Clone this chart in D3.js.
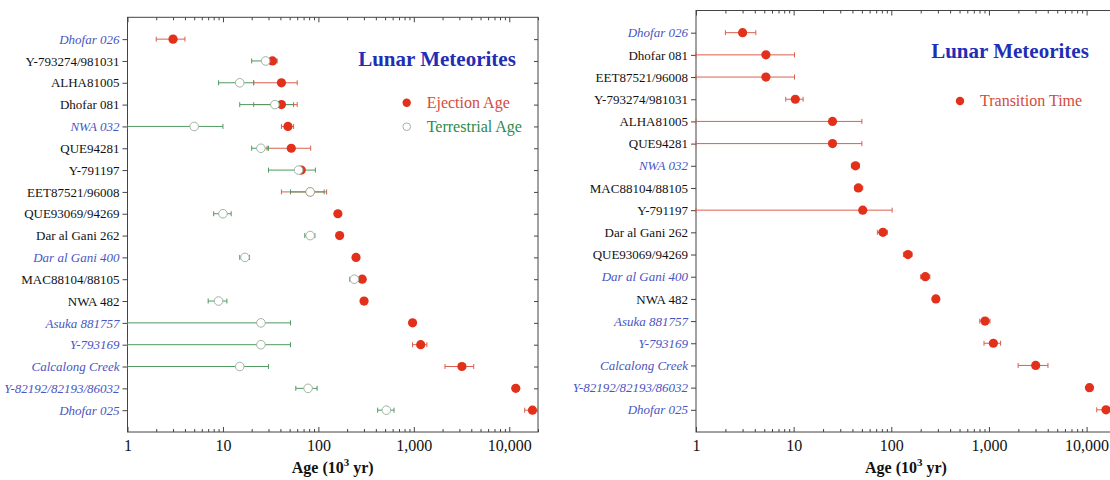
<!DOCTYPE html>
<html>
<head>
<meta charset="utf-8">
<script src="https://cdn.jsdelivr.net/npm/d3@7"></script>
<style>
  body { margin: 0; background: #fff; }
  svg { display: block; font-family: "Liberation Serif", "Times New Roman", serif; }
</style>
</head>
<body>
<svg id="chart" width="1110" height="480"></svg>
<script>
// Row names, top to bottom
const leftNames = ["Dhofar 026", "Y-793274/981031", "ALHA81005", "Dhofar 081", "NWA 032", "QUE94281",
  "Y-791197", "EET87521/96008", "QUE93069/94269", "Dar al Gani 262", "Dar al Gani 400", "MAC88104/88105",
  "NWA 482", "Asuka 881757", "Y-793169", "Calcalong Creek", "Y-82192/82193/86032", "Dhofar 025"];
const rightNames = ["Dhofar 026", "Dhofar 081", "EET87521/96008", "Y-793274/981031", "ALHA81005", "QUE94281",
  "NWA 032", "MAC88104/88105", "Y-791197", "Dar al Gani 262", "QUE93069/94269", "Dar al Gani 400",
  "NWA 482", "Asuka 881757", "Y-793169", "Calcalong Creek", "Y-82192/82193/86032", "Dhofar 025"];
// names shown in blue italic
const italicNames = ["Dhofar 026", "NWA 032", "Dar al Gani 400", "Asuka 881757", "Y-793169",
  "Calcalong Creek", "Y-82192/82193/86032", "Dhofar 025"];

// Left panel: ejection age (10^3 yr) with error range
const ejection = [3, 33, 41, 41, 48, 52, 66, 82, 160, 167, 248, 288, 301, 970, 1180, 3190, 11700, 17500];
const ejectionLo = [2, 28, 21, 21, 41, 29, 60, 41, 150, 158, 235, 272, 285, 900, 970, 2120, 11000, 14500];
const ejectionHi = [4, 37, 60, 60, 55, 83, 72, 122, 170, 176, 262, 304, 318, 1040, 1370, 4240, 12400, 20000];

// Left panel: terrestrial age (10^3 yr), none for Dhofar 026
const terrestrial = [null, 28, 15, 35, 5, 25, 62, 82, 10, 82, 17, 238, 9, 25, 25, 15, 78, 515];
const terrestrialLo = [null, 20, 9, 15, 1, 20, 30, 51, 8, 72, 15, 213, 7, 1, 1, 1, 58, 418];
const terrestrialHi = [null, 36, 21, 55, 10, 30, 93, 115, 12.2, 92, 19, 262, 11, 51, 51, 30, 97, 620];

// Right panel: transition time (10^3 yr)
const transition = [3, 5.2, 5.2, 10.4, 25, 25, 43, 46, 51, 82, 148, 223, 286, 912, 1110, 3010, 10700, 15800];
const transitionLo = [2, 1, 1, 8.3, 1, 1, 39, 42, 1, 72, 133, 200, 272, 805, 890, 1990, 10200, 12700];
const transitionHi = [4.1, 10.2, 10.2, 12.5, 50, 50, 47, 51, 102, 91, 163, 248, 300, 1025, 1315, 4020, 11300, 20000];

const xDomain = [1, 20000];
const majorTicks = [1, 10, 100, 1000, 10000];
const minorTicks = [];
[1, 10, 100, 1000, 10000].forEach(d => {
    for (let k = 2; k <= 9; k++) if (d * k <= xDomain[1]) minorTicks.push(d * k);
});

const SERIF = '"Liberation Serif", "Times New Roman", serif';
const RED = "#e2301a";
const RED_BAR = "#d9604e";
const GREEN_BAR = "#4f9a60";
const CIRCLE = "#9fb5a3";
const BLUE_LABEL = "#4b55bf";
const TITLE_BLUE = "#1f2fb5";

const svg = d3.select("#chart");

function drawPanel(opt) {
    const x = d3.scaleLog().domain(xDomain).range([opt.left, opt.right]);
    const y = d3.scaleLinear().domain([-1, 18]).range([opt.top, opt.bottom]);
    const g = svg.append("g");

    // frame
    g.append("rect")
        .attr("x", opt.left).attr("y", opt.top)
        .attr("width", opt.right - opt.left).attr("height", opt.bottom - opt.top)
        .attr("fill", "none").attr("stroke", "#444").attr("stroke-width", 1);

    // bottom axis, ticks pointing inward
    const bottom = g.append("g").attr("transform", `translate(0,${opt.bottom})`)
        .call(d3.axisBottom(x).tickValues(majorTicks).tickSize(-5).tickPadding(8).tickFormat(d3.format(",")));
    bottom.selectAll("text").style("font-size", "16px").attr("fill", "#111");
    g.append("g").attr("transform", `translate(0,${opt.bottom})`)
        .call(d3.axisBottom(x).tickValues(minorTicks).tickSize(-3).tickFormat(""));

    // top axis
    g.append("g").attr("transform", `translate(0,${opt.top})`)
        .call(d3.axisTop(x).tickValues(majorTicks).tickSize(-5).tickFormat(""));
    g.append("g").attr("transform", `translate(0,${opt.top})`)
        .call(d3.axisTop(x).tickValues(minorTicks).tickSize(-3).tickFormat(""));

    // left axis with meteorite names
    const leftAx = g.append("g").attr("transform", `translate(${opt.left},0)`)
        .call(d3.axisLeft(y).tickValues(d3.range(18)).tickSize(5).tickPadding(3).tickFormat(i => opt.names[i]));
    leftAx.selectAll("text")
        .style("font-size", "13px")
        .attr("fill", i => italicNames.includes(opt.names[i]) ? BLUE_LABEL : "#111")
        .style("font-style", i => italicNames.includes(opt.names[i]) ? "italic" : "normal");

    // right axis, ticks only
    g.append("g").attr("transform", `translate(${opt.right},0)`)
        .call(d3.axisRight(y).tickValues(d3.range(18)).tickSize(-4).tickFormat(""));

    g.selectAll(".domain").remove();
    g.selectAll(".tick line").attr("stroke", "#444");
    g.selectAll("g").attr("font-family", SERIF);

    // x label
    const lab = g.append("text")
        .attr("x", (opt.left + opt.right) / 2).attr("y", 473)
        .attr("text-anchor", "middle")
        .style("font-size", "16px").style("font-weight", "bold").attr("fill", "#111");
    lab.append("tspan").text("Age (10");
    lab.append("tspan").attr("dy", -7).style("font-size", "11px").text("3");
    lab.append("tspan").attr("dy", 7).text(" yr)");

    // title
    g.append("text")
        .attr("x", opt.titleX).attr("y", opt.titleY)
        .attr("text-anchor", "middle")
        .style("font-size", "21px").style("font-weight", "bold")
        .attr("fill", TITLE_BLUE)
        .text("Lunar Meteorites");

    return {g, x, y};
}

function errorBars(g, x, y, lo, hi, color) {
    const rows = d3.range(lo.length).filter(i => lo[i] != null);
    const bars = g.append("g").attr("stroke", color).attr("stroke-width", 1);
    bars.selectAll("line.bar").data(rows).enter().append("line")
        .attr("x1", i => x(lo[i])).attr("x2", i => x(hi[i]))
        .attr("y1", i => y(i)).attr("y2", i => y(i));
    bars.selectAll("line.capLo").data(rows).enter().append("line")
        .attr("x1", i => x(lo[i])).attr("x2", i => x(lo[i]))
        .attr("y1", i => y(i) - 2.5).attr("y2", i => y(i) + 2.5);
    bars.selectAll("line.capHi").data(rows).enter().append("line")
        .attr("x1", i => x(hi[i])).attr("x2", i => x(hi[i]))
        .attr("y1", i => y(i) - 2.5).attr("y2", i => y(i) + 2.5);
}

// ---- left panel: ejection and terrestrial ages
const L = drawPanel({left: 127.5, right: 538, top: 17.3, bottom: 432, names: leftNames, titleX: 437, titleY: 66});
svg.append("clipPath").attr("id", "clipL").append("rect")
    .attr("x", 127.5).attr("y", 17.3).attr("width", 410.5).attr("height", 414.7);
const marksL = svg.append("g").attr("clip-path", "url(#clipL)");
errorBars(marksL, L.x, L.y, ejectionLo, ejectionHi, RED_BAR);
errorBars(marksL, L.x, L.y, terrestrialLo, terrestrialHi, GREEN_BAR);
marksL.selectAll("circle.ej").data(ejection).enter().append("circle")
    .attr("cx", d => L.x(d)).attr("cy", (d, i) => L.y(i)).attr("r", 4.6).attr("fill", RED);
marksL.selectAll("circle.te").data(terrestrial.map((d, i) => [d, i]).filter(d => d[0] != null)).enter().append("circle")
    .attr("cx", d => L.x(d[0])).attr("cy", d => L.y(d[1])).attr("r", 4.3)
    .attr("fill", "#fff").attr("stroke", CIRCLE).attr("stroke-width", 1);

// legend
svg.append("circle").attr("cx", 406.7).attr("cy", 102.7).attr("r", 4.2).attr("fill", RED);
svg.append("text").attr("x", 426.7).attr("y", 107.6).style("font-size", "16px").attr("fill", "#d44a3c").text("Ejection Age");
svg.append("circle").attr("cx", 406.7).attr("cy", 126.7).attr("r", 3.8).attr("fill", "#fff").attr("stroke", CIRCLE);
svg.append("text").attr("x", 426.7).attr("y", 131.8).style("font-size", "16px").attr("fill", "#2f8a4b").text("Terrestrial Age");

// ---- right panel: transition time
const R = drawPanel({left: 696, right: 1116, top: 10.5, bottom: 432, names: rightNames, titleX: 1010, titleY: 57.5});
const marksR = svg.append("g");
errorBars(marksR, R.x, R.y, transitionLo, transitionHi, RED_BAR);
marksR.selectAll("circle.tr").data(transition).enter().append("circle")
    .attr("cx", d => R.x(d)).attr("cy", (d, i) => R.y(i)).attr("r", 4.6).attr("fill", RED);

svg.append("circle").attr("cx", 960).attr("cy", 101).attr("r", 4.2).attr("fill", RED);
svg.append("text").attr("x", 980).attr("y", 106).style("font-size", "16px").attr("fill", "#d44a3c").text("Transition Time");
</script>
</body>
</html>
